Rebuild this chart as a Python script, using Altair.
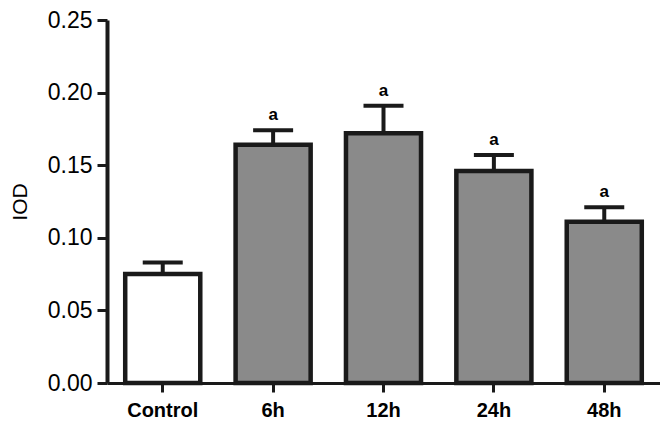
import altair as alt
import pandas as pd

groups = ["Control", "6h", "12h", "24h", "48h"]
means = [0.075, 0.164, 0.172, 0.146, 0.111]
errs_top = [0.083, 0.174, 0.191, 0.157, 0.121]
marks = ["", "a", "a", "a", "a"]
fills = ["#ffffff", "#8a8a8a", "#8a8a8a", "#8a8a8a", "#8a8a8a"]

df = pd.DataFrame({"group": groups, "mean": means, "top": errs_top,
                   "mark": marks, "fill": fills})

xaxis = alt.Axis(title=None, labelFont="Liberation Sans", labelFontWeight="bold",
                 labelFontSize=20, labelColor="black", labelPadding=8,
                 domainColor="#1a1a1a", domainWidth=3, tickColor="#1a1a1a",
                 tickWidth=3, tickSize=9, labelAngle=0)
xscale = alt.Scale(paddingInner=0.32, paddingOuter=0.165)
yscale = alt.Scale(domain=[0, 0.25], nice=False)
yaxis = alt.Axis(title="IOD", values=[0, 0.05, 0.1, 0.15, 0.2, 0.25], format=".2f",
                 labelFont="Liberation Sans", labelFontSize=23, labelColor="black",
                 labelPadding=5, titleFont="Liberation Sans", titleFontSize=21,
                 titleFontWeight="normal", titleColor="black", titlePadding=17,
                 domainColor="#1a1a1a", domainWidth=4, tickColor="#1a1a1a",
                 tickWidth=3, tickSize=10, grid=False)


def xe():
    return alt.X("group:N", sort=groups, scale=xscale, axis=xaxis)


def ye(field):
    return alt.Y(field, scale=yscale, axis=yaxis)


base = alt.Chart(df)

bars = base.mark_bar(stroke="#1a1a1a", strokeWidth=4.5).encode(
    x=xe(), y=ye("mean:Q"), fill=alt.Fill("fill:N", scale=None))
errline = base.mark_rule(color="#1a1a1a", strokeWidth=4).encode(
    x=xe(), y=ye("mean:Q"), y2="top:Q")
cap = base.mark_tick(color="#1a1a1a", thickness=4, size=40, orient="horizontal",
                     opacity=1).encode(x=xe(), y=ye("top:Q"))
text = base.mark_text(font="Liberation Sans", fontSize=17, fontWeight="bold",
                      color="black", dy=-15).encode(
    x=xe(), y=ye("top:Q"), text="mark:N")

chart = alt.layer(bars, errline, cap, text).properties(
    width=553, height=363,
    autosize=alt.AutoSizeParams(type="none"),
    padding={"left": 99, "top": 12, "right": 0, "bottom": 44},
    background="white",
).configure_view(stroke=None)

chart.save("out.html", embed_options={"renderer": "svg", "actions": False})
